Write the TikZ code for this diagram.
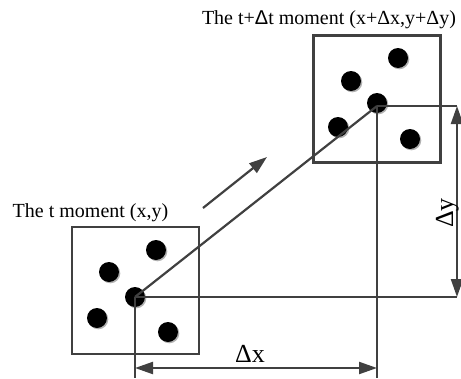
\documentclass[tikz,border=0pt]{standalone}
\usepackage{fontspec}
\setmainfont{Liberation Serif}
\newfontfamily\sansf{Liberation Sans}
\usetikzlibrary{arrows.meta}
\begin{document}
\begin{tikzpicture}[x=1pt,y=-1pt,
  frame/.style={draw=black!75, line width=2.2pt, minimum size=127pt, inner sep=0pt},
  dot/.style={circle, fill=black, minimum size=20pt, inner sep=0pt},
  shade/.style={circle, fill=black!30, minimum size=20pt, inner sep=0pt},
  ln/.style={draw=black!75, line width=2.2pt},
  arr/.style={ln, -{Triangle[length=18pt,width=12pt]}},
  darr/.style={ln, {Triangle[length=18pt,width=12pt]}-{Triangle[length=18pt,width=12pt]}},
  lab/.style={font=\fontsize{20}{24}\selectfont, inner sep=0pt, anchor=base},
  dlab/.style={font=\fontsize{26}{30}\selectfont, inner sep=0pt, anchor=base}]
\useasboundingbox (0,0) rectangle (461,378);
% boxes
\node[frame] (L) at (135.5,290.5) {};
\node[frame] (R) at (377,99) {};
% dots left
\foreach \x/\y [count=\i] in {156/250, 109/272, 97/318, 168/332, 135/297}{
  \node[shade] at (\x+1.3,\y+1.3) {};
  \node[dot] (l\i) at (\x,\y) {};
}
% dots right
\foreach \x/\y [count=\i] in {398/58, 351/81, 377/103, 338/127, 410/139}{
  \node[shade] at (\x+1.3,\y+1.3) {};
  \node[dot] (r\i) at (\x,\y) {};
}
% reference points
\coordinate (p0) at (135,297);
\coordinate (p1) at (377,106);
\coordinate (ey) at (457,297);
\coordinate (ey1) at (457,106);
\coordinate (bx0) at (135,378);
\coordinate (bx1) at (377,378);
\coordinate (dx0) at (135,368);
\coordinate (dx1) at (377,368);
\coordinate (m0) at (203,208);
\coordinate (m1) at (267,157);
% lines
\draw[ln] (p0) -- (p1);
\draw[ln] (p0) -- (ey);
\draw[ln] (p0) -- (bx0);
\draw[ln] (p1) -- (ey1);
\draw[ln] (p1) -- (bx1);
\draw[darr] (ey1) -- (ey);
\draw[darr] (dx0) -- (dx1);
\draw[arr] (m0) -- (m1);
% labels
\node[lab] (tl) at (90.5,217) {The t moment (x,y)};
\node[lab] (tr) at (329,24) {The t+{\sansf Δ}t moment (x+Δx,y+Δy)};
\node[dlab] (dxl) at (250,362) {Δx};
\node[dlab, rotate=90] (dyl) at (453,213) {Δy};
\end{tikzpicture}
\end{document}
